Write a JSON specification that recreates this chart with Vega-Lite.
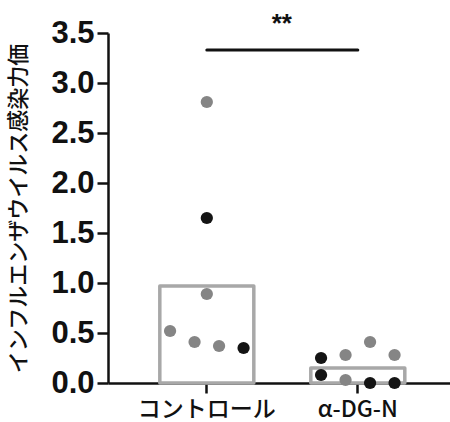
{
  "$schema": "https://vega.github.io/schema/vega-lite/v6.json",
  "autosize": "none",
  "width": 342,
  "height": 350,
  "padding": {"left": 108, "top": 33, "right": 0, "bottom": 39},
  "background": "white",
  "config": {"view": {"stroke": null}},
  "datasets": {
    "bars": [
      {"group": "コントロール", "mean": 0.97},
      {"group": "α-DG-N", "mean": 0.15}
    ],
    "points": [
      {"group": "コントロール", "value": 2.81, "batch": "A", "slot": 0},
      {"group": "コントロール", "value": 1.65, "batch": "B", "slot": 0},
      {"group": "コントロール", "value": 0.89, "batch": "A", "slot": 0},
      {"group": "コントロール", "value": 0.52, "batch": "A", "slot": -3},
      {"group": "コントロール", "value": 0.41, "batch": "A", "slot": -1},
      {"group": "コントロール", "value": 0.37, "batch": "A", "slot": 1},
      {"group": "コントロール", "value": 0.35, "batch": "B", "slot": 3},
      {"group": "α-DG-N", "value": 0.25, "batch": "B", "slot": -3},
      {"group": "α-DG-N", "value": 0.08, "batch": "B", "slot": -3},
      {"group": "α-DG-N", "value": 0.28, "batch": "A", "slot": -1},
      {"group": "α-DG-N", "value": 0.03, "batch": "A", "slot": -1},
      {"group": "α-DG-N", "value": 0.41, "batch": "A", "slot": 1},
      {"group": "α-DG-N", "value": 0.0, "batch": "B", "slot": 1},
      {"group": "α-DG-N", "value": 0.28, "batch": "A", "slot": 3},
      {"group": "α-DG-N", "value": 0.0, "batch": "B", "slot": 3}
    ],
    "sig": [
      {"from": "コントロール", "to": "α-DG-N", "y": 3.33, "label": "**"}
    ]
  },
  "encoding": {
    "x": {
      "field": "group",
      "type": "nominal",
      "sort": ["コントロール", "α-DG-N"],
      "scale": {"domain": ["コントロール", "α-DG-N"], "paddingInner": 0.38, "paddingOuter": 0.3225, "align": 0.534},
      "axis": {
        "title": null,
        "labelAngle": 0,
        "labelFont": "Noto Sans CJK JP",
        "labelFontSize": 23,
        "labelFontWeight": 500,
        "labelColor": "#111",
        "labelPadding": 5,
        "domainColor": "#111",
        "domainWidth": 2.5,
        "tickColor": "#111",
        "tickWidth": 2.5,
        "tickSize": 10
      }
    }
  },
  "layer": [
    {
      "data": {"name": "bars"},
      "mark": {"type": "bar", "fill": null, "fillOpacity": 0, "stroke": "#a8a8a8", "strokeWidth": 3.5, "strokeJoin": "round", "width": 94},
      "encoding": {
        "y": {
          "field": "mean",
          "type": "quantitative",
          "scale": {"domain": [0, 3.5]},
          "axis": {
            "title": "インフルエンザウイルス感染力価",
            "titleFont": "Noto Sans CJK JP",
            "titleFontSize": 22,
            "titleFontWeight": 500,
            "titleColor": "#111",
            "titleX": -78,
            "titleY": 175,
            "titleAlign": "center",
            "values": [0, 0.5, 1, 1.5, 2, 2.5, 3, 3.5],
            "format": ".1f",
            "labelFont": "Liberation Sans",
            "labelFontSize": 31,
            "labelFontWeight": "bold",
            "labelColor": "#111",
            "labelPadding": 3,
            "grid": false,
            "domainColor": "#111",
            "domainWidth": 2.5,
            "tickColor": "#111",
            "tickWidth": 2.5,
            "tickSize": 11
          }
        }
      }
    },
    {
      "data": {"name": "sig"},
      "mark": {"type": "rule", "stroke": "#111", "strokeWidth": 3, "strokeCap": "round"},
      "encoding": {
        "x": {"field": "from", "type": "nominal", "bandPosition": 0.5},
        "x2": {"field": "to", "bandPosition": 0.5},
        "y": {"field": "y", "type": "quantitative"}
      }
    },
    {
      "data": {"name": "sig"},
      "mark": {"type": "text", "font": "Liberation Sans", "fontSize": 26, "fontWeight": "bold", "color": "#111", "dx": 75, "dy": -26, "baseline": "middle", "clip": false},
      "encoding": {
        "x": {"field": "from", "type": "nominal", "bandPosition": 0.5},
        "y": {"field": "y", "type": "quantitative"},
        "text": {"field": "label"}
      }
    },
    {
      "data": {"name": "points"},
      "mark": {"type": "circle", "size": 150, "opacity": 1},
      "encoding": {
        "xOffset": {"field": "slot", "type": "quantitative", "scale": {"domain": [-3.82, 3.82]}},
        "y": {"field": "value", "type": "quantitative"},
        "color": {"field": "batch", "type": "nominal", "scale": {"domain": ["A", "B"], "range": ["#858585", "#141414"]}, "legend": null}
      }
    }
  ]
}
